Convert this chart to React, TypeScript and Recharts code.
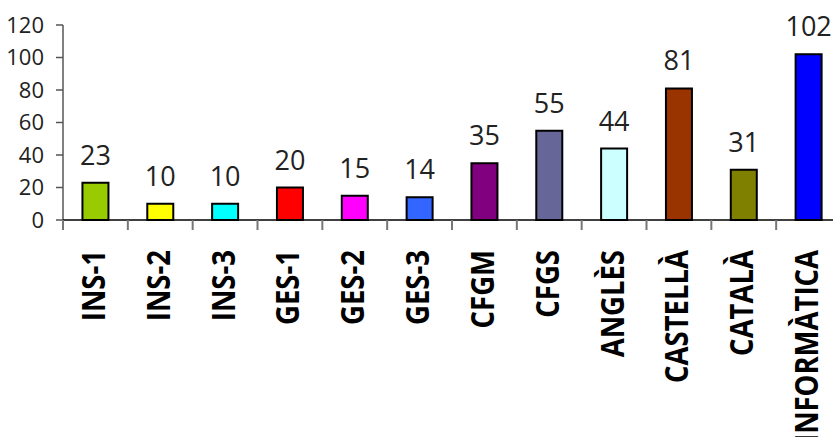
import React from 'react';
import { BarChart, Bar, XAxis, YAxis, Cell, LabelList } from 'recharts';

const categories = ['INS-1', 'INS-2', 'INS-3', 'GES-1', 'GES-2', 'GES-3', 'CFGM', 'CFGS', 'ANGLÈS', 'CASTELLÀ', 'CATALÀ', 'INFORMÀTICA'];
const values = [23, 10, 10, 20, 15, 14, 35, 55, 44, 81, 31, 102];
const colors = ['#99CC00', '#FFFF00', '#00FFFF', '#FF0000', '#FF00FF', '#3366FF', '#800080', '#666699', '#CCFFFF', '#993300', '#808000', '#0000FF'];
const yTicks = [0, 20, 40, 60, 80, 100, 120];

const data = categories.map((name, i) => ({ name, value: values[i] }));

const XTick = (props: any) => {
  const { x, y, payload, index } = props;
  const off = payload && typeof payload.offset === 'number' && payload.offset > 0 ? payload.offset : 32.4;
  const last = index === categories.length - 1;
  return (
    <g>
      <line x1={x - off} x2={x - off} y1={y} y2={y + 10} stroke="#777" strokeWidth={2} />
      {last && <line x1={x + off} x2={x + off} y1={y} y2={y + 10} stroke="#777" strokeWidth={2} />}
      <text
        transform={`translate(${x + 9.5},${y + 30}) rotate(-90) scale(1,1.15)`}
        textAnchor="end"
        fontFamily="'Open Sans', sans-serif"
        fontWeight="bold"
        fontSize={27.5}
        fill="#000"
      >
        {payload.value}
      </text>
    </g>
  );
};

export default function App() {
  return (
    <div style={{ position: 'absolute', left: 0, top: 0, width: 833, height: 437, overflow: 'hidden', background: '#fff' }}>
      <BarChart
        width={850}
        height={437}
        data={data}
        margin={{ top: 25, right: 9, bottom: 0, left: 0 }}
        barCategoryGap="30%"
      >
        <YAxis
          width={63}
          domain={[0, 120]}
          ticks={yTicks}
          interval={0}
          axisLine={{ stroke: '#808080', strokeWidth: 2 }}
          tickLine={{ stroke: '#555', strokeWidth: 1.5 }}
          tickSize={7}
          tickMargin={12}
          tick={{ fontFamily: "'Open Sans', sans-serif", fontSize: 22, fill: '#222' }}
        />
        <XAxis
          dataKey="name"
          height={217}
          interval={0}
          axisLine={{ stroke: '#000', strokeWidth: 1.5 }}
          tickLine={false}
          tickSize={0}
          tickMargin={0}
          tick={<XTick />}
        />
        <Bar dataKey="value" stroke="#000" strokeWidth={2} isAnimationActive={false}>
          {data.map((d, i) => (
            <Cell key={d.name} fill={colors[i]} />
          ))}
          <LabelList
            dataKey="value"
            position="top"
            offset={18}
            style={{ fontFamily: "'Open Sans', sans-serif", fontSize: 27, fill: '#222' }}
          />
        </Bar>
      </BarChart>
    </div>
  );
}
